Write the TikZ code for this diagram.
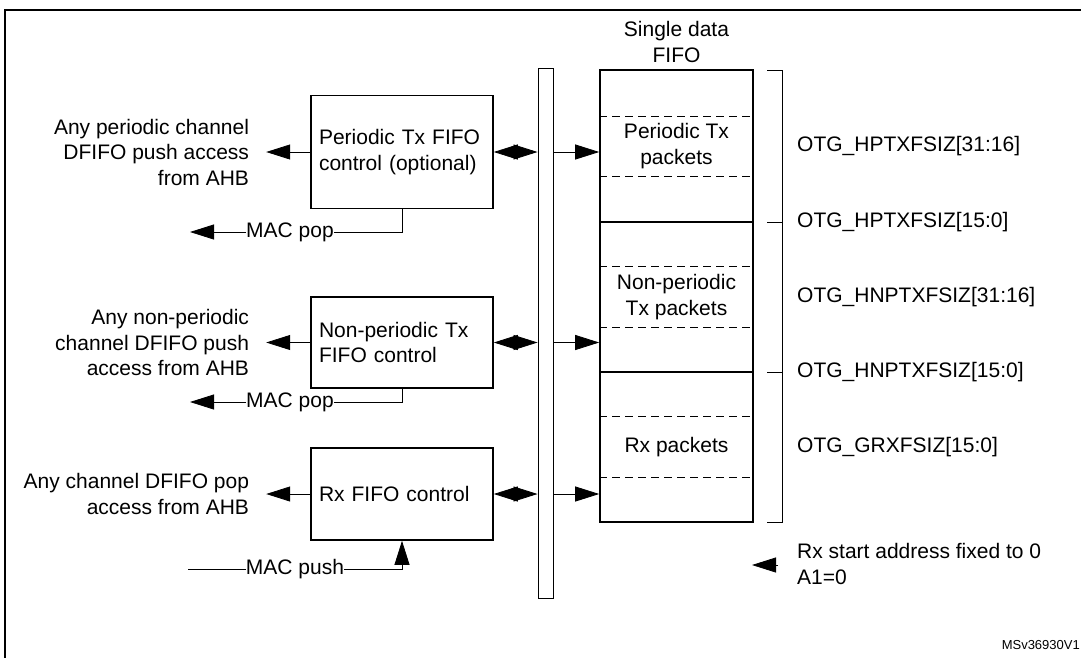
\documentclass[tikz,border=0pt]{standalone}
\usepackage{fontspec}
\setmainfont{Liberation Sans}
\usetikzlibrary{arrows.meta}
\begin{document}
\begin{tikzpicture}[x=1pt,y=-1pt,
  every node/.style={font=\fontsize{21}{25.5}\selectfont,inner sep=0pt},
  blk/.style={draw,line width=1.6pt,minimum width=182pt,align=left,text width=166pt},
  arr/.style={-{Triangle[length=24pt,width=15pt]},line width=0.8pt},
  dbl/.style={{Triangle[length=24pt,width=15pt]}-{Triangle[length=24pt,width=15pt]},line width=0.8pt},
  lbl/.style={anchor=west},
  dsh/.style={dash pattern=on 8pt off 5pt,line width=0.7pt}]
\useasboundingbox (0,0) rectangle (1081,657);
\draw[line width=1.4pt] (5,680) -- (5,10) -- (1090,10);
% bus
\node[draw,line width=0.9pt,minimum width=15pt,minimum height=530pt] (bus) at (545.5,333) {};
% FIFO
\node[draw,line width=1.6pt,minimum width=153pt,minimum height=452pt] (fifo) at (676.5,296) {};
\node[align=center] (ft) at (676.5,42) {Single data\\FIFO};
\draw[line width=1.6pt] (fifo.west |- 0,222) -- (fifo.east |- 0,222);
\draw[line width=1.6pt] (fifo.west |- 0,372) -- (fifo.east |- 0,372);
\foreach \yy in {116,176,266,327,416,477} \draw[dsh] (fifo.west |- 0,\yy) -- (fifo.east |- 0,\yy);
\node[align=center] (p1) at (676.5,146) {Periodic Tx\\packets};
\node[align=center] (p2) at (676.5,297) {Non-periodic\\Tx packets};
\node (p3) at (676.5,447) {Rx packets};
% bracket
\draw[line width=0.8pt] (767,70) -- (782,70) -- (782,522) -- (767,522);
\draw[line width=0.8pt] (767,222) -- (782,222) (767,372) -- (782,372);
\node[lbl] (r1) at (797,146) {OTG\_HPTXFSIZ[31:16]};
\node[lbl] (r2) at (797,222) {OTG\_HPTXFSIZ[15:0]};
\node[lbl] (r3) at (797,297) {OTG\_HNPTXFSIZ[31:16]};
\node[lbl] (r4) at (797,372) {OTG\_HNPTXFSIZ[15:0]};
\node[lbl] (r5) at (797,447) {OTG\_GRXFSIZ[15:0]};
\node[lbl,align=left] (rx) at (797,564) {Rx start address fixed to 0\\A1=0};
\coordinate (rxs) at (778,565);
\draw[arr] (rxs) -- (752,565);
% boxes
\node[blk,minimum height=113pt] (b1) at (402,152) {Periodic Tx FIFO\\control (optional)};
\node[blk,minimum height=91pt] (b2) at (402,342.5) {Non-periodic Tx\\FIFO control};
\node[blk,minimum height=92pt] (b3) at (402,494) {Rx FIFO control};
\foreach \b/\t in {b1/Any periodic channel\\DFIFO push access\\from AHB, b2/Any non-periodic\\channel DFIFO push\\access from AHB, b3/Any channel DFIFO pop\\access from AHB}{
  \node[anchor=east,align=right] (\b l) at ([xshift=-61pt]\b.west) {\t};
  \draw[arr] (\b.west) -- ([xshift=-44pt]\b.west);
  \draw[dbl] (\b.east) -- (bus.west |- \b.east);
  \draw[arr] (bus.east |- \b.east) -- (fifo.west |- \b.east);
}
% MAC
\node (m1) at (290,232) {MAC pop};
\node (m2) at (290,402) {MAC pop};
\node (m3) at (295,569) {MAC push};
\coordinate (e1) at (190,232);
\coordinate (e2) at (190,402);
\coordinate (e3) at (188,569);
\draw[line width=0.8pt] (b1.south) |- (m1.east);
\draw[arr] (m1.west) -- (e1);
\draw[line width=0.8pt] (b2.south) |- (m2.east);
\draw[arr] (m2.west) -- (e2);
\draw[line width=0.8pt] (e3) -- (m3.west);
\draw[arr] (m3.east) -| (b3.south);
\node[anchor=east,font=\fontsize{13}{15}\selectfont] (ms) at (1080,645) {MSv36930V1};
\end{tikzpicture}
\end{document}
